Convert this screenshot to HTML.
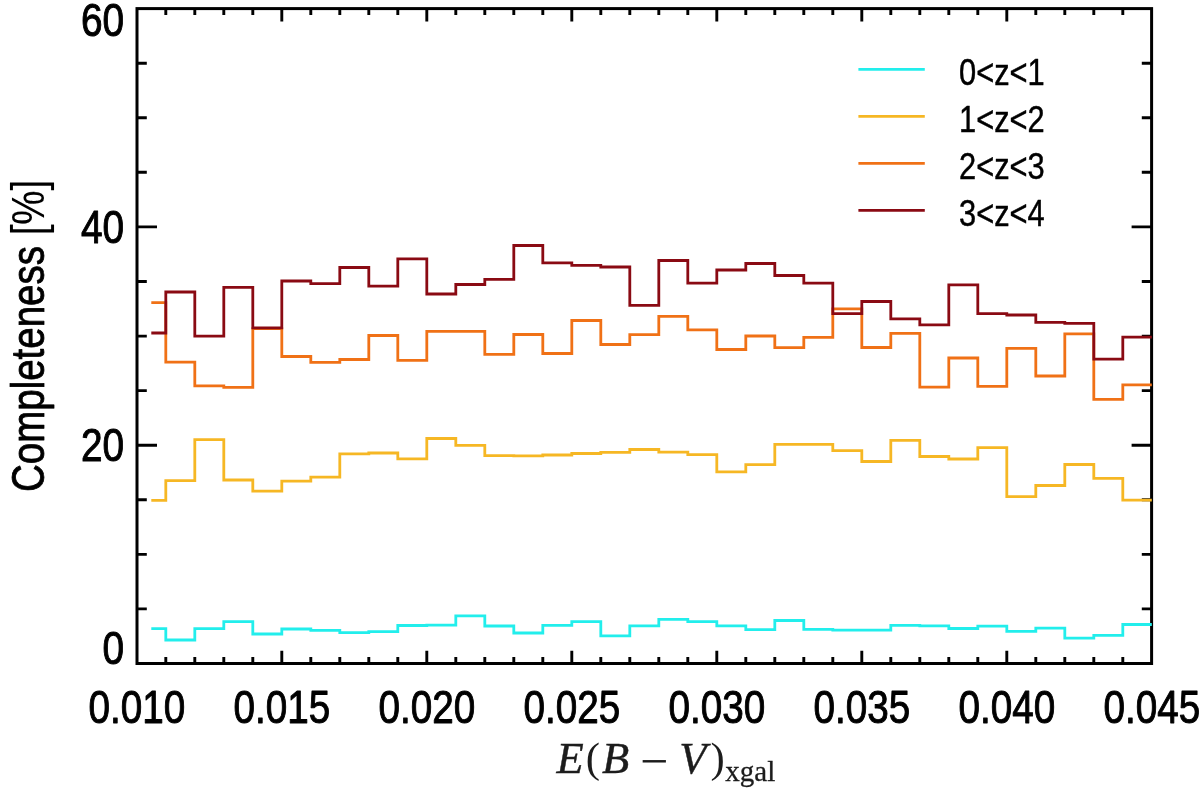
<!DOCTYPE html>
<html lang="en">
<head>
<meta charset="utf-8">
<title>Completeness vs E(B-V)xgal</title>
<style>
html,body{margin:0;padding:0;background:#fff;}
body{width:1200px;height:788px;overflow:hidden;}
svg{display:block;}
.sans{font-family:"Liberation Sans",Arial,Helvetica,sans-serif;fill:#000;stroke:#000;stroke-width:1.0px;stroke-linejoin:round;}
.serif{font-family:"Liberation Serif","Times New Roman",Times,serif;fill:#1c1c1c;}
</style>
</head>
<body>
<svg width="1200" height="788" viewBox="0 0 1200 788">
<rect x="0" y="0" width="1200" height="788" fill="#ffffff"/>
<g stroke="#000" stroke-width="3.0" fill="none" stroke-linecap="butt">
<rect x="137.0" y="8.6" width="1014.6" height="654.9"/>
</g>
<g stroke="#000" stroke-width="2.9" fill="none">
<path d="M165.8 663.5v-6.4M165.8 8.6v6.4M194.8 663.5v-6.4M194.8 8.6v6.4M223.8 663.5v-6.4M223.8 8.6v6.4M252.8 663.5v-6.4M252.8 8.6v6.4M281.8 663.5v-12.8M281.8 8.6v12.8M310.8 663.5v-6.4M310.8 8.6v6.4M339.8 663.5v-6.4M339.8 8.6v6.4M368.8 663.5v-6.4M368.8 8.6v6.4M397.8 663.5v-6.4M397.8 8.6v6.4M426.8 663.5v-12.8M426.8 8.6v12.8M455.8 663.5v-6.4M455.8 8.6v6.4M484.8 663.5v-6.4M484.8 8.6v6.4M513.8 663.5v-6.4M513.8 8.6v6.4M542.8 663.5v-6.4M542.8 8.6v6.4M571.8 663.5v-12.8M571.8 8.6v12.8M600.8 663.5v-6.4M600.8 8.6v6.4M629.8 663.5v-6.4M629.8 8.6v6.4M658.8 663.5v-6.4M658.8 8.6v6.4M687.8 663.5v-6.4M687.8 8.6v6.4M716.8 663.5v-12.8M716.8 8.6v12.8M745.8 663.5v-6.4M745.8 8.6v6.4M774.8 663.5v-6.4M774.8 8.6v6.4M803.8 663.5v-6.4M803.8 8.6v6.4M832.8 663.5v-6.4M832.8 8.6v6.4M861.8 663.5v-12.8M861.8 8.6v12.8M890.8 663.5v-6.4M890.8 8.6v6.4M919.8 663.5v-6.4M919.8 8.6v6.4M948.8 663.5v-6.4M948.8 8.6v6.4M977.8 663.5v-6.4M977.8 8.6v6.4M1006.8 663.5v-12.8M1006.8 8.6v12.8M1035.8 663.5v-6.4M1035.8 8.6v6.4M1064.8 663.5v-6.4M1064.8 8.6v6.4M1093.8 663.5v-6.4M1093.8 8.6v6.4M1122.8 663.5v-6.4M1122.8 8.6v6.4"/>
<path d="M137.0 608.9h9.8M1151.6 608.9h-9.8M137.0 554.4h9.8M1151.6 554.4h-9.8M137.0 499.8h9.8M1151.6 499.8h-9.8M137.0 445.2h20.0M1151.6 445.2h-20.0M137.0 390.6h9.8M1151.6 390.6h-9.8M137.0 336.1h9.8M1151.6 336.1h-9.8M137.0 281.5h9.8M1151.6 281.5h-9.8M137.0 226.9h20.0M1151.6 226.9h-20.0M137.0 172.3h9.8M1151.6 172.3h-9.8M137.0 117.8h9.8M1151.6 117.8h-9.8M137.0 63.2h9.8M1151.6 63.2h-9.8"/>
</g>
<g fill="none" stroke-width="2.8" stroke-linejoin="miter" stroke-linecap="butt">
<path d="M151.3 628.7H165.8V640.0H194.8V628.7H223.8V621.7H252.8V634.0H281.8V629.0H310.8V630.3H339.8V632.7H368.8V631.7H397.8V625.5H426.8V625.2H455.8V615.8H484.8V626.0H513.8V633.0H542.8V625.3H571.8V621.7H600.8V635.8H629.8V625.8H658.8V619.4H687.8V621.7H716.8V625.8H745.8V629.7H774.8V620.5H803.8V629.3H832.8V630.2H861.8V630.2H890.8V625.3H919.8V625.8H948.8V628.5H977.8V626.2H1006.8V631.3H1035.8V628.2H1064.8V638.2H1093.8V635.3H1122.8V624.5H1151.8" stroke="#22eeec"/>
<path d="M151.3 500.3H165.8V480.7H194.8V439.7H223.8V480.0H252.8V491.2H281.8V481.1H310.8V477.1H339.8V453.8H368.8V453.0H397.8V458.8H426.8V438.5H455.8V445.3H484.8V455.6H513.8V455.8H542.8V455.0H571.8V453.5H600.8V452.3H629.8V449.5H658.8V452.1H687.8V454.7H716.8V471.8H745.8V464.7H774.8V444.3H803.8V444.4H832.8V450.7H861.8V461.5H890.8V440.3H919.8V456.5H948.8V459.0H977.8V447.7H1006.8V496.6H1035.8V485.5H1064.8V464.5H1093.8V478.3H1122.8V500.2H1151.8" stroke="#f6b724"/>
<path d="M151.3 302.7H165.8V362.2H194.8V385.8H223.8V387.3H252.8V328.7H281.8V356.5H310.8V362.4H339.8V359.5H368.8V335.5H397.8V360.3H426.8V331.3H455.8V331.4H484.8V354.4H513.8V334.5H542.8V353.5H571.8V320.5H600.8V344.5H629.8V334.7H658.8V316.4H687.8V329.8H716.8V349.5H745.8V336.0H774.8V347.7H803.8V337.3H832.8V308.8H861.8V347.5H890.8V333.3H919.8V387.2H948.8V358.0H977.8V386.3H1006.8V348.4H1035.8V376.0H1064.8V333.8H1093.8V399.3H1122.8V384.8H1151.8" stroke="#f07116"/>
<path d="M151.3 333.0H165.8V292.0H194.8V336.2H223.8V287.3H252.8V327.8H281.8V281.0H310.8V283.6H339.8V267.5H368.8V286.2H397.8V258.8H426.8V294.0H455.8V284.5H484.8V279.4H513.8V245.5H542.8V262.8H571.8V265.3H600.8V267.0H629.8V305.3H658.8V260.5H687.8V283.2H716.8V270.0H745.8V263.5H774.8V275.5H803.8V283.1H832.8V313.6H861.8V301.5H890.8V318.8H919.8V324.8H948.8V284.8H977.8V313.7H1006.8V315.0H1035.8V322.3H1064.8V323.3H1093.8V359.2H1122.8V337.2H1151.8" stroke="#8a0a13"/>
</g>
<text class="sans" transform="translate(124.1 36.3) scale(0.835 1)" font-size="46.5" text-anchor="end">60</text>
<text class="sans" transform="translate(124.1 242.8) scale(0.835 1)" font-size="46.5" text-anchor="end">40</text>
<text class="sans" transform="translate(124.1 460.6) scale(0.835 1)" font-size="46.5" text-anchor="end">20</text>
<text class="sans" transform="translate(124.1 663.9) scale(0.835 1)" font-size="46.5" text-anchor="end">0</text>
<text class="sans" transform="translate(136.8 723.3) scale(0.832 1)" font-size="46.5" text-anchor="middle">0.010</text>
<text class="sans" transform="translate(281.8 723.3) scale(0.832 1)" font-size="46.5" text-anchor="middle">0.015</text>
<text class="sans" transform="translate(426.8 723.3) scale(0.832 1)" font-size="46.5" text-anchor="middle">0.020</text>
<text class="sans" transform="translate(571.8 723.3) scale(0.832 1)" font-size="46.5" text-anchor="middle">0.025</text>
<text class="sans" transform="translate(716.8 723.3) scale(0.832 1)" font-size="46.5" text-anchor="middle">0.030</text>
<text class="sans" transform="translate(861.8 723.3) scale(0.832 1)" font-size="46.5" text-anchor="middle">0.035</text>
<text class="sans" transform="translate(1006.8 723.3) scale(0.832 1)" font-size="46.5" text-anchor="middle">0.040</text>
<text class="sans" transform="translate(1151.8 723.3) scale(0.832 1)" font-size="46.5" text-anchor="middle">0.045</text>
<text class="sans" transform="translate(44.2 492.0) rotate(-90) scale(0.819 1)" style="stroke-width:0.8px" font-size="47.0" text-anchor="start">Completeness <tspan style="stroke-width:0.1px">[%]</tspan></text>
<line x1="858.4" y1="69.4" x2="924.8" y2="69.4" stroke="#22eeec" stroke-width="2.9"/>
<text class="sans" transform="translate(959.0 85.3) scale(0.845 1)" font-size="36.5" text-anchor="start" style="stroke-width:0.45px">0&lt;z&lt;1</text>
<line x1="858.4" y1="116.4" x2="924.8" y2="116.4" stroke="#f6b724" stroke-width="2.9"/>
<text class="sans" transform="translate(959.0 132.3) scale(0.845 1)" font-size="36.5" text-anchor="start" style="stroke-width:0.45px">1&lt;z&lt;2</text>
<line x1="858.4" y1="163.4" x2="924.8" y2="163.4" stroke="#f07116" stroke-width="2.9"/>
<text class="sans" transform="translate(959.0 179.3) scale(0.845 1)" font-size="36.5" text-anchor="start" style="stroke-width:0.45px">2&lt;z&lt;3</text>
<line x1="858.4" y1="210.4" x2="924.8" y2="210.4" stroke="#8a0a13" stroke-width="2.9"/>
<text class="sans" transform="translate(959.0 226.3) scale(0.845 1)" font-size="36.5" text-anchor="start" style="stroke-width:0.45px">3&lt;z&lt;4</text>
<text class="serif" font-size="44.5" font-style="italic" stroke="#1c1c1c" stroke-width="0.45" x="556.5" y="772.8">E</text>
<text class="serif" font-size="42.8" x="585.8" y="772.1">(</text>
<text class="serif" font-size="44.5" font-style="italic" stroke="#1c1c1c" stroke-width="0.45" x="602.0" y="772.8">B</text>
<text class="serif" font-size="50" x="640.0" y="778.0">−</text>
<text class="serif" font-size="44.5" font-style="italic" stroke="#1c1c1c" stroke-width="0.45" x="679.3" y="772.8">V</text>
<text class="serif" font-size="42.8" x="710.6" y="772.1">)</text>
<text class="serif" font-size="29" stroke="#1c1c1c" stroke-width="0.3" x="725.3" y="781">xgal</text>
</svg>
</body>
</html>
